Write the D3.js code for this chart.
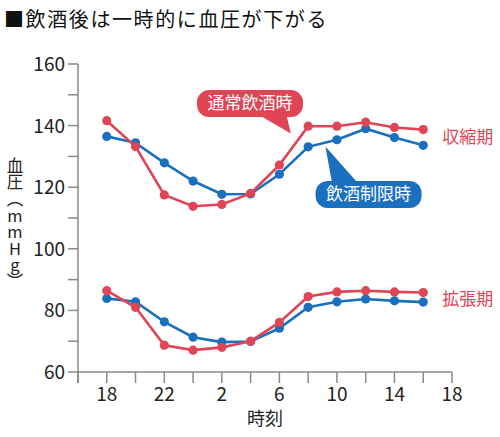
<!DOCTYPE html>
<html>
<head>
<meta charset="utf-8">
<script src="https://cdn.jsdelivr.net/npm/d3@7"></script>
<style>
  body { margin: 0; background: #fff; }
  text { font-family: "Noto Sans CJK JP", "Noto Sans", sans-serif; }
</style>
</head>
<body>
<svg id="chart" width="500" height="437"></svg>
<script>
// hours continue past midnight (26 = 2:00 next day)
let hours = [18, 20, 22, 24, 26, 28, 30, 32, 34, 36, 38, 40];
let xTicks = [16, 18, 20, 22, 24, 26, 28, 30, 32, 34, 36, 38, 40, 42];
let xLabels = {18: '18', 22: '22', 26: '2', 30: '6', 34: '10', 38: '14', 42: '18'};
let yTicks = [60, 70, 80, 90, 100, 110, 120, 130, 140, 150, 160];
let yLabels = [60, 80, 100, 120, 140, 160];

let sysNormal = [141.6, 133.2, 117.5, 113.8, 114.4, 118.0, 127.2, 139.8, 139.8, 141.1, 139.4, 138.7];
let sysLimit  = [136.5, 134.4, 127.9, 122.0, 117.7, 117.8, 124.2, 133.1, 135.4, 139.0, 136.1, 133.6];
let diaNormal = [86.4, 81.0, 68.7, 67.1, 68.0, 70.0, 76.1, 84.5, 86.0, 86.4, 86.0, 85.8];
let diaLimit  = [83.9, 82.8, 76.3, 71.3, 69.7, 69.9, 74.2, 81.0, 82.8, 83.7, 83.1, 82.7];

let red = '#e04555';
let blue = '#1a70bf';

let svg = d3.select('#chart');

let x = d3.scaleLinear().domain([16, 42]).range([78, 452]);
let y = d3.scaleLinear().domain([60, 160]).range([372, 64]);

// title
svg.append('text')
  .attr('x', 4).attr('y', 27)
  .attr('font-size', 20)
  .attr('letter-spacing', 1.6)
  .attr('fill', '#111')
  .text('■飲酒後は一時的に血圧が下がる');

// axes
let axisColor = '#8a8a8a';
svg.append('line')
  .attr('x1', x(16)).attr('x2', x(16))
  .attr('y1', y(160)).attr('y2', y(60) + 11)
  .attr('stroke', axisColor).attr('stroke-width', 1.5);
svg.append('line')
  .attr('x1', x(16)).attr('x2', x(42))
  .attr('y1', y(60)).attr('y2', y(60))
  .attr('stroke', axisColor).attr('stroke-width', 1.5);

svg.selectAll('.ytick')
  .data(yTicks)
  .enter()
  .append('line')
  .attr('x1', x(16) - 10).attr('x2', x(16))
  .attr('y1', function(d) { return y(d) })
  .attr('y2', function(d) { return y(d) })
  .attr('stroke', axisColor).attr('stroke-width', 1.5);

svg.selectAll('.ylab')
  .data(yLabels)
  .enter()
  .append('text')
  .attr('x', x(16) - 13)
  .attr('y', function(d) { return y(d) + 7 })
  .attr('text-anchor', 'end')
  .attr('font-size', 19)
  .attr('fill', '#222')
  .text(function(d) { return d });

svg.selectAll('.xtick')
  .data(xTicks)
  .enter()
  .append('line')
  .attr('x1', function(d) { return x(d) })
  .attr('x2', function(d) { return x(d) })
  .attr('y1', y(60)).attr('y2', y(60) + 11)
  .attr('stroke', axisColor).attr('stroke-width', 1.5);

svg.selectAll('.xlab')
  .data(xTicks.filter(function(d) { return xLabels[d] }))
  .enter()
  .append('text')
  .attr('x', function(d) { return x(d) })
  .attr('y', 401)
  .attr('text-anchor', 'middle')
  .attr('font-size', 19)
  .attr('fill', '#222')
  .text(function(d) { return xLabels[d] });

svg.append('text')
  .attr('x', (x(16) + x(42)) / 2)
  .attr('y', 425)
  .attr('text-anchor', 'middle')
  .attr('font-size', 18)
  .attr('fill', '#222')
  .text('時刻');

// vertical y-axis title: Japanese vertical setting, latin letters kept upright
let yTitle = svg.append('text')
  .attr('x', 15).attr('y', 157)
  .attr('font-size', 16.5)
  .attr('fill', '#222')
  .style('writing-mode', 'vertical-rl');
yTitle.append('tspan').text('血圧（');
yTitle.append('tspan').style('text-orientation', 'upright').text('mmHg');
yTitle.append('tspan').text('）');

// series
let series = [
  {values: diaLimit, color: blue},
  {values: diaNormal, color: red},
  {values: sysLimit, color: blue},
  {values: sysNormal, color: red}
];

let line = d3.line()
  .x(function(d, i) { return x(hours[i]) })
  .y(function(d) { return y(d) });

series.forEach(function(s) {
  svg.append('path')
    .attr('d', line(s.values))
    .attr('fill', 'none')
    .attr('stroke', s.color)
    .attr('stroke-width', 2.6);
  svg.append('g').selectAll('circle')
    .data(s.values)
    .enter()
    .append('circle')
    .attr('cx', function(d, i) { return x(hours[i]) })
    .attr('cy', function(d) { return y(d) })
    .attr('r', 4.6)
    .attr('fill', s.color);
});

// end labels
let last = hours.length - 1;
svg.append('text')
  .attr('x', x(hours[last]) + 19)
  .attr('y', y((sysNormal[last] + sysLimit[last]) / 2) + 6)
  .attr('font-size', 17)
  .attr('fill', red)
  .text('収縮期');
svg.append('text')
  .attr('x', x(hours[last]) + 19)
  .attr('y', y((diaNormal[last] + diaLimit[last]) / 2) + 8)
  .attr('font-size', 17)
  .attr('fill', red)
  .text('拡張期');

// callouts
function callout(label, color, cx, cy, tail) {
  let g = svg.append('g');
  g.append('path')
    .attr('d', 'M' + tail.join('L') + 'Z')
    .attr('fill', color);
  g.append('rect')
    .attr('x', cx - 53).attr('y', cy - 13)
    .attr('width', 106).attr('height', 27)
    .attr('rx', 12)
    .attr('fill', color);
  g.append('text')
    .attr('x', cx).attr('y', cy + 6)
    .attr('text-anchor', 'middle')
    .attr('font-size', 17)
    .attr('fill', '#fff')
    .text(label);
}

let rcx = x(27.96), rcy = y(147.3);
callout('通常飲酒時', red, rcx, rcy,
  [[rcx + 2, rcy + 8], [x(30.8), y(137.4)], [rcx + 35, rcy + 6]]);

let bcx = x(36.2), bcy = y(117.8);
callout('飲酒制限時', blue, bcx, bcy,
  [[bcx - 36, bcy - 8], [x(33.2), y(133.2)], [bcx - 8, bcy - 8]]);
</script>
</body>
</html>
